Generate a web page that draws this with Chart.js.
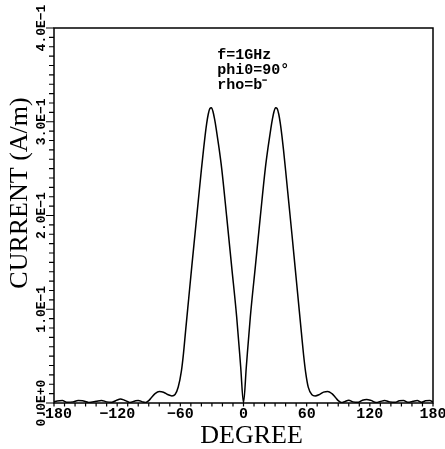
<!DOCTYPE html>
<html>
<head>
<meta charset="utf-8">
<script src="https://cdn.jsdelivr.net/npm/chart.js@4/dist/chart.umd.min.js"></script>
<style>
html,body{margin:0;padding:0;background:#fff;}
#wrap{position:relative;width:445px;height:449px;}
</style>
</head>
<body>
<div id="wrap"><canvas id="c" width="445" height="449"></canvas></div>
<script>
// Degrees (x) and current in A/m (y)
const degrees = [
  -180,-177,-172,-168,-162,-157,-153,-147,-140,-135,-130,-125,-120,-117,-113,-108,-103,-100,-96,-93,
  -90,-87,-84,-80,-76,-72,-68,-65,-62,-59,-57,-55,-52,-49,-46,-43,-40,-38,-36.5,-35,-33.5,-32,-30.5,
  -29,-27.5,-26,-23.5,-20.7,-16,-11.2,-6.5,-2.7,0,
  2.7,6.5,11.2,16,20.7,23.5,26,27.5,29,30.5,32,33.5,35,36.5,38,40,43,46,49,52,55,57,59,61.5,
  65,68,72,76,80,84,87,90,93,96,100,104,109,113,117,121,126,130,134,139,144,148,152,156,161,165,169,173,177,180
];
const current = [
  0.0012,0.0022,0.0026,0.0008,0.0012,0.0026,0.0024,0.0006,0.0018,0.0028,0.0012,0.0008,0.0032,0.0042,0.0030,0.0006,0.0022,0.0028,0.0012,0.0005,
  0.0025,0.0065,0.0100,0.0122,0.0115,0.0090,0.0076,0.0090,0.0170,0.034,0.053,0.077,0.112,0.147,0.181,0.215,0.249,0.270,0.285,0.298,0.308,0.314,0.315,
  0.311,0.303,0.293,0.274,0.250,0.199,0.145,0.092,0.039,0.0,
  0.039,0.092,0.145,0.199,0.250,0.274,0.293,0.303,0.311,0.315,0.314,0.308,0.298,0.285,0.270,0.248,0.214,0.180,0.145,0.110,0.075,0.052,0.033,0.017,
  0.0088,0.0076,0.0090,0.0116,0.0124,0.0100,0.0065,0.0025,0.0005,0.0014,0.0030,0.0012,0.0007,0.0030,0.0038,0.0028,0.0006,0.0016,0.0026,0.0012,0.0007,0.0024,0.0026,0.0008,0.0018,0.0028,0.0008,0.0024,0.0028,0.0010,0.0016
];
const xTickValues = [-180,-120,-60,0,60,120,180];
const xTickLabels = ["\u2212180","\u2212120","\u221260","0","60","120","180"];
const yTickValues = [0,0.1,0.2,0.3,0.4];
const yTickLabels = ["0.0E+0","1.0E\u22121","2.0E\u22121","3.0E\u22121","4.0E\u22121"];
const xTitle = "DEGREE";
const yTitle = "CURRENT (A/m)";
const noteLines = ["f=1GHz","phi0=90\u00B0","rho=b\u207B"];

const points = degrees.map((d,i)=>({x:d,y:current[i]}));

const framePlugin = {
  id:'frame',
  afterDraw(chart){
    const ctx = chart.ctx, a = chart.chartArea, xs = chart.scales.x, ys = chart.scales.y;
    ctx.save();
    ctx.strokeStyle = '#000';
    ctx.fillStyle = '#000';
    ctx.lineWidth = 1.5;
    ctx.strokeRect(a.left, a.top, a.right-a.left, a.bottom-a.top);
    // x minor ticks every 10 degrees, pointing down
    ctx.lineWidth = 1.2;
    ctx.beginPath();
    for(let d=-180; d<=180; d+=10){
      const px = xs.getPixelForValue(d);
      ctx.moveTo(px, a.bottom); ctx.lineTo(px, a.bottom+3.5);
    }
    // y ticks every 0.01, pointing left
    for(let k=0;k<=40;k++){
      const v = k/100, py = ys.getPixelForValue(v);
      const len = (k%10===0)?8:5;
      ctx.moveTo(a.left, py); ctx.lineTo(a.left-len, py);
    }
    ctx.stroke();
    // x tick labels
    ctx.font = 'bold 15px "Liberation Mono"';
    ctx.textAlign = 'center';
    ctx.textBaseline = 'middle';
    xTickValues.forEach((v,i)=>{
      ctx.fillText(xTickLabels[i], xs.getPixelForValue(v), a.bottom+11);
    });
    // y tick labels rotated
    ctx.font = 'bold 13px "Liberation Mono"';
    yTickValues.forEach((v,i)=>{
      ctx.save();
      ctx.translate(a.left-12, ys.getPixelForValue(v));
      ctx.rotate(-Math.PI/2);
      ctx.fillText(yTickLabels[i], 0, 0);
      ctx.restore();
    });
    // axis titles
    ctx.font = '26px "Liberation Serif"';
    ctx.fillText(xTitle, (a.left+a.right)/2+8, a.bottom+33);
    ctx.save();
    ctx.translate(20, 193);
    ctx.rotate(-Math.PI/2);
    ctx.fillText(yTitle, 0, 0);
    ctx.restore();
    // annotation
    ctx.font = 'bold 15px "Liberation Mono"';
    ctx.textAlign = 'left';
    noteLines.forEach((t,i)=>{
      ctx.fillText(t, xs.getPixelForValue(-25), 55+15*i);
    });
    ctx.restore();
  }
};

new Chart(document.getElementById('c'), {
  type:'line',
  data:{datasets:[{data:points,borderColor:'#000',borderWidth:1.5,pointRadius:0,fill:false,cubicInterpolationMode:'monotone'}]},
  options:{
    responsive:false,
    animation:false,
    layout:{padding:{left:54,right:12,top:28,bottom:46}},
    plugins:{legend:{display:false},tooltip:{enabled:false}},
    scales:{
      x:{type:'linear',min:-180,max:180,display:false},
      y:{type:'linear',min:0,max:0.4,display:false}
    }
  },
  plugins:[framePlugin]
});
</script>
</body>
</html>
